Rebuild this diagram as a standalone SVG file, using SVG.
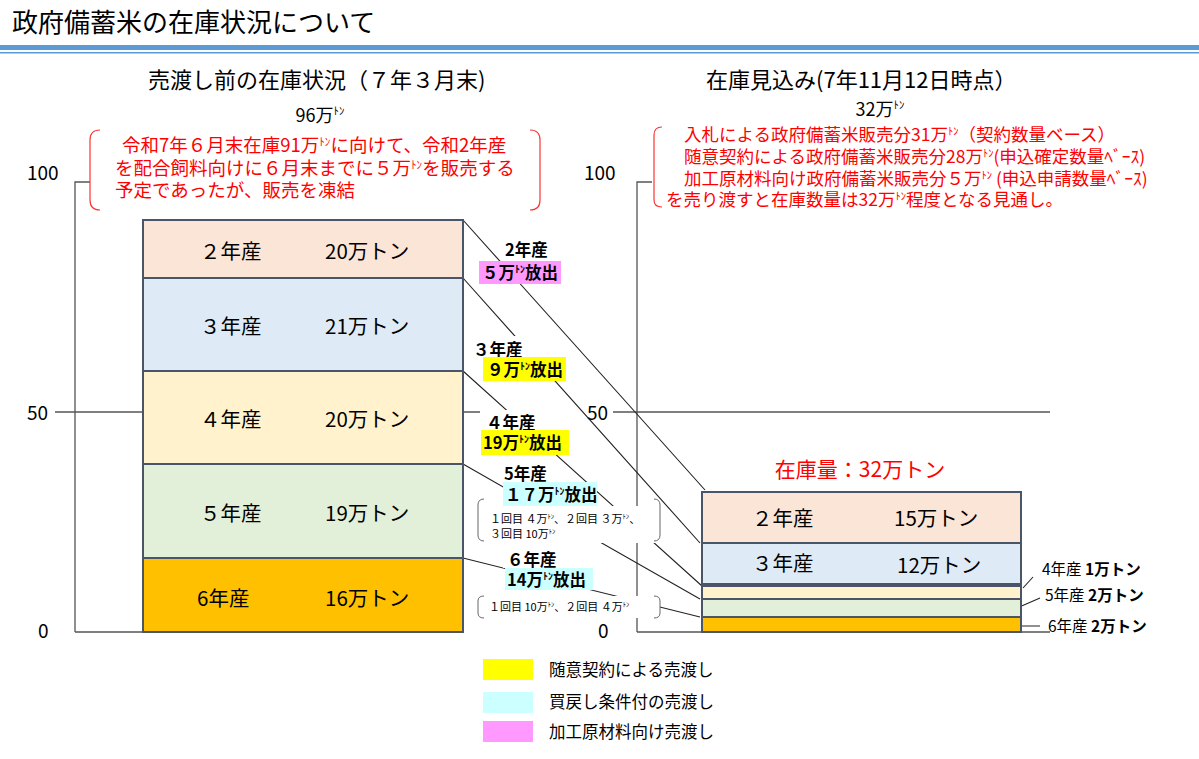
<svg xmlns="http://www.w3.org/2000/svg" width="1199" height="759" viewBox="0 0 1199 759">
<style>
text{font-family:"Noto Sans CJK JP","Liberation Sans",sans-serif;fill:#000}
.t{font-size:22px}
.red{fill:#FF0000;font-size:18.5px}
.red2{fill:#FF0000;font-size:17.5px}
.b{font-weight:bold;font-size:16.5px}
.s{font-size:11px}
.ax{stroke:#555;stroke-width:1.3;fill:none}
.bar{stroke:#4A5668;stroke-width:2}
.cn{stroke:#222;stroke-width:1.1;fill:none}
.br{stroke:#FF3333;stroke-width:1.2;fill:none}
.gb{stroke:#666;stroke-width:1;fill:none}
.sm{font-size:60%}
.n{font-size:19px}
.bl{font-size:20.5px}
</style>
<rect width="1199" height="759" fill="#fff"/>
<text x="12" y="32" font-size="26">政府備蓄米の在庫状況について</text>
<rect x="0" y="45" width="1199" height="5" fill="#5B9BD5"/>
<rect x="0" y="52" width="1199" height="1.5" fill="#5B9BD5"/>
<text x="148" y="88" class="t">売渡し前の在庫状況（７年３月末)</text>
<text x="320" y="122" font-size="18" text-anchor="middle">96万<tspan class="sm" dy="-7">ﾄﾝ</tspan></text>
<text x="706" y="88" class="t">在庫見込み(7年11月12日時点）</text>
<text x="880" y="116" font-size="18" text-anchor="middle">32万<tspan class="sm" dy="-7">ﾄﾝ</tspan></text>
<g id="axes">
<text x="27" y="180" class="n">100</text><text x="27" y="420" class="n">50</text><text x="38" y="638" class="n">0</text>
<path class="ax" d="M75 632V182H90M55 412H143M463 412H480M75 632H463"/>
<text x="584" y="180" class="n">100</text><text x="587" y="420" class="n">50</text><text x="598" y="638" class="n">0</text>
<path class="ax" d="M637 632V182H652M613 412H1050M637 632H1050"/>
</g>
<g id="note-left">
<path class="br" d="M100 130Q90 130 90 140V200Q90 210 100 210M530 130Q540 130 540 140V200Q540 210 530 210"/>
<text class="red" x="122" y="152">令和7年６月末在庫91万<tspan class="sm" dy="-6">ﾄﾝ</tspan><tspan dy="6">に向けて、令和2年産</tspan></text>
<text class="red" x="115" y="175">を配合飼料向けに６月末までに５万<tspan class="sm" dy="-6">ﾄﾝ</tspan><tspan dy="6">を販売する</tspan></text>
<text class="red" x="115" y="197">予定であったが、販売を凍結</text>
</g>
<g id="note-right">
<path class="br" d="M662 127Q654 127 654 135V200Q654 207 662 207"/>
<text class="red2" x="684" y="141">入札による政府備蓄米販売分31万<tspan class="sm" dy="-6">ﾄﾝ</tspan><tspan dy="6">（契約数量ベース）</tspan></text>
<text class="red2" x="684" y="163">随意契約による政府備蓄米販売分28万<tspan class="sm" dy="-6">ﾄﾝ</tspan><tspan dy="6">(申込確定数量ﾍﾞｰｽ)</tspan></text>
<text class="red2" x="684" y="185">加工原材料向け政府備蓄米販売分５万<tspan class="sm" dy="-6">ﾄﾝ</tspan><tspan dy="6"> (申込申請数量ﾍﾞｰｽ)</tspan></text>
<text class="red2" x="666" y="206">を売り渡すと在庫数量は32万<tspan class="sm" dy="-6">ﾄﾝ</tspan><tspan dy="6">程度となる見通し。</tspan></text>
</g>
<g id="connectors">
<path class="cn" d="M463 220L705 490M463 278L700 543M463 371L702 586M463 464L700 599M463 558L700 617"/>
<path class="cn" d="M1023 588L1033 577M1017 608L1040 598M1013 626L1040 626"/>
</g>
<g id="bars-left">
<rect class="bar" x="143" y="220" width="320" height="58" fill="#FBE5D6"/>
<rect class="bar" x="143" y="278" width="320" height="93" fill="#DEEBF7"/>
<rect class="bar" x="143" y="371" width="320" height="93" fill="#FFF2CC"/>
<rect class="bar" x="143" y="464" width="320" height="94" fill="#E2F0D9"/>
<rect class="bar" x="143" y="558" width="320" height="74" fill="#FFC000"/>
<g class="bl"><text x="200" y="259">２年産</text><text x="325" y="259">20万トン</text>
<text x="200" y="334">３年産</text><text x="325" y="334">21万トン</text>
<text x="200" y="427">４年産</text><text x="325" y="427">20万トン</text>
<text x="200" y="521">５年産</text><text x="325" y="521">19万トン</text>
<text x="197" y="606">6年産</text><text x="325" y="606">16万トン</text></g>
</g>
<g id="bars-right">
<text x="860" y="477" font-size="21" style="fill:#FF0000" text-anchor="middle">在庫量：32万トン</text>
<rect class="bar" x="702" y="492" width="319" height="51" fill="#FBE5D6"/>
<rect class="bar" x="702" y="543" width="319" height="41" fill="#DEEBF7"/>
<rect class="bar" x="702" y="586" width="319" height="13" fill="#FFF2CC"/>
<rect class="bar" x="702" y="599" width="319" height="18" fill="#E2F0D9"/>
<rect class="bar" x="702" y="617" width="319" height="15" fill="#FFC000"/>
<g class="bl"><text x="752" y="526">２年産</text><text x="894" y="526">15万トン</text>
<text x="752" y="571">３年産</text><text x="897" y="573">12万トン</text></g>
<text x="1042" y="575" font-size="15.5">4年産 <tspan font-weight="bold">1万トン</tspan></text>
<text x="1045" y="601" font-size="15.5">5年産 <tspan font-weight="bold">2万トン</tspan></text>
<text x="1048" y="632" font-size="15.5">6年産 <tspan font-weight="bold">2万トン</tspan></text>
</g>
<g id="labels">
<rect x="500" y="238" width="55" height="20" fill="#fff"/>
<text class="b" x="505" y="256">2年産</text>
<rect x="479" y="261" width="82" height="23" fill="#FF99FF"/>
<text class="b" x="482" y="279">５万<tspan class="sm" dy="-6">ﾄﾝ</tspan><tspan dy="6">放出</tspan></text>
<rect x="470" y="336" width="75" height="22" fill="#fff"/>
<text class="b" x="473" y="356">３年産</text>
<rect x="483" y="357" width="83" height="24" fill="#FFFF00"/>
<text class="b" x="487" y="376">９万<tspan class="sm" dy="-6">ﾄﾝ</tspan><tspan dy="6">放出</tspan></text>
<rect x="483" y="410" width="60" height="20" fill="#fff"/>
<text class="b" x="486" y="429">４年産</text>
<rect x="481" y="430" width="88" height="25" fill="#FFFF00"/>
<text class="b" x="483" y="449">19万<tspan class="sm" dy="-6">ﾄﾝ</tspan><tspan dy="6">放出</tspan></text>
<rect x="502" y="462" width="50" height="20" fill="#fff"/>
<text class="b" x="504" y="480">5年産</text>
<rect x="503" y="482" width="94" height="24" fill="#CCFFFF"/>
<text class="b" x="505" y="501">１７万<tspan class="sm" dy="-6">ﾄﾝ</tspan><tspan dy="6">放出</tspan></text>
<rect x="478" y="506" width="182" height="37" fill="#fff"/>
<path class="gb" d="M484 499Q478 499 478 505V535Q478 541 484 541M654 499Q660 499 660 505V535Q660 541 654 541"/>
<text class="s" x="490" y="523">１回目 ４万<tspan class="sm" dy="-4">ﾄﾝ</tspan><tspan dy="4">、２回目 ３万</tspan><tspan class="sm" dy="-4">ﾄﾝ</tspan><tspan dy="4">、</tspan></text>
<text class="s" x="490" y="538">３回目 10万<tspan class="sm" dy="-4">ﾄﾝ</tspan></text>
<rect x="503" y="550" width="60" height="18" fill="#fff"/>
<text class="b" x="507" y="566">６年産</text>
<rect x="505" y="568" width="88" height="22" fill="#CCFFFF"/>
<text class="b" x="507" y="586">14万<tspan class="sm" dy="-6">ﾄﾝ</tspan><tspan dy="6">放出</tspan></text>
<rect x="478" y="596" width="182" height="22" fill="#fff"/>
<path class="gb" d="M484 596Q478 596 478 601V613Q478 618 484 618M654 596Q660 596 660 601V613Q660 618 654 618"/>
<text class="s" x="489" y="611">１回目 10万<tspan class="sm" dy="-4">ﾄﾝ</tspan><tspan dy="4">、２回目 ４万</tspan><tspan class="sm" dy="-4">ﾄﾝ</tspan></text>
</g>
<g id="legend">
<rect x="483" y="659" width="50" height="21" fill="#FFFF00"/><text x="549" y="676" font-size="16.5">随意契約による売渡し</text>
<rect x="483" y="692" width="50" height="21" fill="#CCFFFF"/><text x="549" y="708" font-size="16.5">買戻し条件付の売渡し</text>
<rect x="483" y="721" width="50" height="21" fill="#FF99FF"/><text x="549" y="738" font-size="16.5">加工原材料向け売渡し</text>
</g>
</svg>
